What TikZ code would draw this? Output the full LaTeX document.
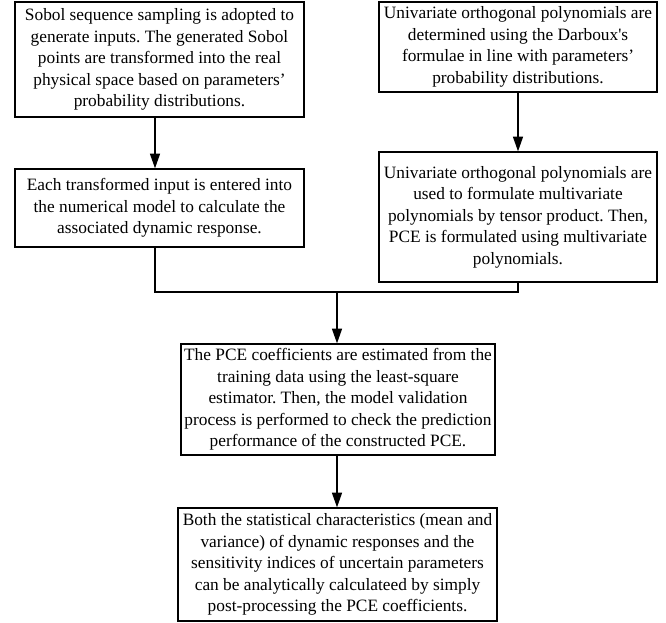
\documentclass[tikz,border=0pt]{standalone}
\usepackage{fontspec}
\setmainfont{Liberation Serif}
\usetikzlibrary{arrows.meta}
\frenchspacing

\begin{document}
\begin{tikzpicture}[x=0.75pt,y=-0.75pt,
  box/.style={draw,line width=1pt,align=center,inner sep=0pt,font=\fontsize{13}{16.1}\selectfont},
  arr/.style={-{Triangle[length=11pt,width=7.5pt]},line width=1pt}]
\useasboundingbox (0,0) rectangle (666,622);
\node[box,minimum width=216.75pt,minimum height=86.25pt] (sobol) at (159.5,59.5) {Sobol sequence sampling is adopted to\\generate inputs. The generated Sobol\\points are transformed into the real\\physical space based on parameters’\\probability distributions.};
\node[box,minimum width=216.75pt,minimum height=58.5pt] (model) at (159.5,208) {Each transformed input is entered into\\the numerical model to calculate the\\associated dynamic response.};
\node[box,minimum width=208.5pt,minimum height=67.5pt] (univ) at (518,47) {Univariate orthogonal polynomials are\\determined using the Darboux\textquotesingle s\\formulae in line with parameters’\\probability distributions.};
\node[box,minimum width=208.5pt,minimum height=97.5pt] (multi) at (518,217) {Univariate orthogonal polynomials are\\used to formulate multivariate\\polynomials by tensor product. Then,\\PCE is formulated using multivariate\\polynomials.};
\node[box,minimum width=235.5pt,minimum height=83.25pt] (coef) at (338,399.5) {The PCE coefficients are estimated from the\\training data using the least-square\\estimator. Then, the model validation\\process is performed to check the prediction\\performance of the constructed PCE.};
\node[box,minimum width=239.25pt,minimum height=84.75pt] (post) at (337.5,564.5) {Both the statistical characteristics (mean and\\variance) of dynamic responses and the\\sensitivity indices of uncertain parameters\\can be analytically calculateed by simply\\post-processing the PCE coefficients.};
\coordinate (left) at (155,292);
\coordinate (join) at (337,292);
\draw[arr] (sobol.south -| left) -- (model.north -| left);
\draw[arr] (univ.south) -- (multi.north);
\draw[line width=1pt] (model.south -| left) -- (left) -- (join) -| (multi.south);
\draw[arr] (join) -- (coef.north -| join);
\draw[arr] (coef.south -| join) -- (post.north -| join);
\end{tikzpicture}
\end{document}
